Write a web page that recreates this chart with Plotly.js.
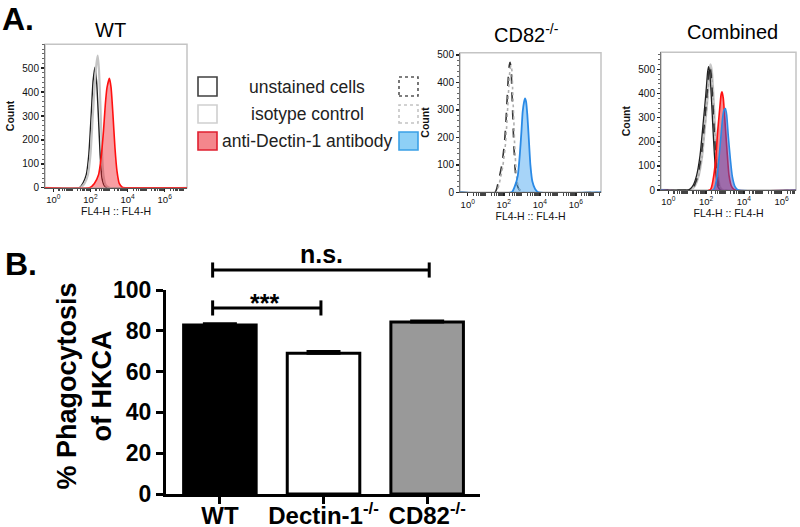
<!DOCTYPE html>
<html><head><meta charset="utf-8">
<script src="https://cdn.plot.ly/plotly-3.0.1.min.js"></script>
<style>html,body{margin:0;padding:0;background:#fff}#chart{width:800px;height:527px}</style>
</head><body><div id="chart"></div>
<script>
// ---------- DATA (fluorescence positions given as log10 FL4-H, counts) ----------
// Panel A, WT
const wtUnstainedLog   = [-0.5, 1.41, 1.59, 1.77, 1.91, 2.04, 2.14, 2.25, 2.34, 2.43, 2.52, 2.62, 2.75, 2.93, 7.5];
const wtUnstainedCount = [0, 0, 18, 53, 138, 307, 447, 505, 433, 293, 138, 39, 8, 0, 0];
const wtIsotypeLog     = [-0.5, 1.46, 1.68, 1.86, 2.0, 2.12, 2.23, 2.32, 2.39, 2.46, 2.54, 2.61, 2.70, 2.82, 3.02, 7.5];
const wtIsotypeCount   = [0, 0, 18, 53, 138, 293, 433, 518, 553, 490, 335, 166, 53, 11, 0, 0];
const wtDectinLog      = [-0.5, 1.95, 2.21, 2.43, 2.57, 2.70, 2.80, 2.89, 3.02, 3.11, 3.21, 3.32, 3.43, 3.55, 3.73, 3.91, 7.5];
const wtDectinCount    = [0, 0, 18, 53, 124, 236, 349, 419, 458, 419, 307, 166, 68, 18, 1, 0, 0];
// Panel A, CD82-/-
const cdUnstainedLog   = [-0.5, 1.52, 1.70, 1.89, 2.03, 2.11, 2.17, 2.22, 2.26, 2.31, 2.35, 2.41, 2.44, 2.48, 2.52, 2.55, 2.59, 2.63, 2.70, 2.81, 3.0, 7.5];
const cdUnstainedCount = [0, 0, 39, 99, 172, 245, 318, 378, 427, 463, 473, 451, 390, 318, 245, 184, 136, 87, 39, 15, 0, 0];
const cdIsotypeLog     = [-0.5, 1.58, 1.76, 1.94, 2.08, 2.16, 2.22, 2.27, 2.31, 2.36, 2.40, 2.46, 2.49, 2.53, 2.57, 2.60, 2.64, 2.68, 2.75, 2.86, 3.05, 7.5];
const cdIsotypeCount   = [0, 0, 35, 92, 165, 238, 310, 372, 420, 452, 460, 440, 380, 310, 240, 180, 130, 82, 36, 12, 0, 0];
const cdDectinLog      = [-0.5, 2.44, 2.63, 2.78, 2.89, 2.98, 3.05, 3.13, 3.18, 3.24, 3.31, 3.39, 3.48, 3.59, 3.74, 3.92, 7.5];
const cdDectinCount    = [0, 0, 25, 61, 136, 220, 293, 330, 342, 330, 281, 196, 99, 39, 12, 0, 0];
// Panel A, Combined
const coWtUnstLog   = [-0.5, 1.06, 1.15, 1.32, 1.50, 1.68, 1.85, 1.98, 2.08, 2.13, 2.20, 2.28, 2.36, 2.44, 2.52, 2.62, 2.76, 7.5];
const coWtUnstCount = [0, 0, 4, 21, 62, 145, 283, 394, 490, 511, 480, 380, 256, 145, 62, 14, 0, 0];
const coWtIsoLog    = [-0.5, 1.16, 1.25, 1.42, 1.60, 1.78, 1.95, 2.08, 2.18, 2.23, 2.30, 2.38, 2.46, 2.54, 2.62, 2.72, 2.86, 7.5];
const coWtIsoCount  = [0, 0, 4, 20, 60, 140, 280, 392, 495, 520, 490, 390, 262, 150, 64, 15, 0, 0];
const coCdUnstLog   = [-0.5, 1.12, 1.21, 1.38, 1.56, 1.74, 1.91, 2.04, 2.14, 2.19, 2.26, 2.34, 2.42, 2.50, 2.58, 2.68, 2.82, 7.5];
const coCdUnstCount = [0, 0, 4, 20, 60, 140, 278, 390, 488, 515, 485, 385, 260, 148, 64, 15, 0, 0];
const coCdIsoLog    = [-0.5, 1.16, 1.25, 1.42, 1.60, 1.78, 1.95, 2.08, 2.18, 2.23, 2.30, 2.38, 2.46, 2.54, 2.62, 2.72, 2.86, 7.5];
const coCdIsoCount  = [0, 0, 4, 19, 58, 136, 272, 385, 480, 505, 478, 380, 255, 145, 62, 14, 0, 0];
const coWtDecLog    = [-0.5, 2.21, 2.38, 2.51, 2.61, 2.72, 2.79, 2.84, 2.91, 3.0, 3.11, 3.21, 3.35, 3.53, 7.5];
const coWtDecCount  = [0, 0, 48, 131, 242, 338, 394, 407, 380, 283, 159, 62, 14, 0, 0];
const coCdDecLog    = [-0.5, 2.38, 2.56, 2.68, 2.79, 2.88, 2.95, 3.02, 3.09, 3.17, 3.28, 3.39, 3.53, 3.70, 7.5];
const coCdDecCount  = [0, 0, 48, 131, 228, 304, 332, 338, 311, 228, 131, 55, 14, 0, 0];
const histTickVals  = [1, 100, 1e4, 1e6];
const histTickText  = ['10<sup>0</sup>', '10<sup>2</sup>', '10<sup>4</sup>', '10<sup>6</sup>'];
const histMinorVals = [1, 10, 100, 1e3, 1e4, 1e5, 1e6, 1e7];
const countTicks    = [0, 100, 200, 300, 400, 500];

// Panel B
const groups       = ['WT', 'Dectin-1<sup>-/-</sup>', 'CD82<sup>-/-</sup>'];
const phagocytosis = [82.8, 69.0, 84.3];
const phagoSEM     = [0.6, 0.9, 0.5];
const barColors    = ['#000000', '#ffffff', '#999999'];
const yTicksB      = [0, 20, 40, 60, 80, 100];
const sigLabels    = ['***', 'n.s.'];
const sigFrom      = [-0.07, -0.07];
const sigTo        = [0.975, 2.02];
const sigLevel     = [91.2, 109.8];
const sigTextLevel = [93.8, 117.5];
const sigTextPos   = [0.43, 0.98];

// ---------- LAYOUT HELPERS ----------
const W = 800, H = 527;
const PX = v => v / W, PY = v => 1 - v / H;
const FONT = 'Arial, "Liberation Sans", sans-serif';
const unlog = a => a.map(v => Math.pow(10, v));

function hist(xLog, y, xa, ya, line, fill) {
  const t = {x: unlog(xLog), y: y, xaxis: xa, yaxis: ya, type: 'scatter', mode: 'lines',
    line: Object.assign({shape: 'spline', smoothing: 0.5}, line), hoverinfo: 'skip', showlegend: false};
  if (fill) { t.fill = 'tozeroy'; t.fillcolor = fill; }
  return t;
}

const traces = [
  hist(wtUnstainedLog, wtUnstainedCount, 'x', 'y', {color: '#202020', width: 1.4}),
  hist(wtIsotypeLog, wtIsotypeCount, 'x', 'y', {color: '#c4c4c4', width: 2.2}),
  hist(wtDectinLog, wtDectinCount, 'x', 'y', {color: '#ff1010', width: 1.6}, 'rgba(240,40,50,0.45)'),

  hist(cdUnstainedLog, cdUnstainedCount, 'x2', 'y2', {color: '#333333', width: 1.6, dash: 'dash'}),
  hist(cdIsotypeLog, cdIsotypeCount, 'x2', 'y2', {color: '#b0b0b0', width: 1.6, dash: 'dot'}),
  hist(cdDectinLog, cdDectinCount, 'x2', 'y2', {color: '#2a8ae6', width: 1.8}, 'rgba(60,160,240,0.45)'),

  hist(coWtIsoLog, coWtIsoCount, 'x3', 'y3', {color: '#c8c8c8', width: 2.6}),
  hist(coCdIsoLog, coCdIsoCount, 'x3', 'y3', {color: '#aaaaaa', width: 1.5, dash: 'dot'}),
  hist(coWtUnstLog, coWtUnstCount, 'x3', 'y3', {color: '#202020', width: 1.3}),
  hist(coCdUnstLog, coCdUnstCount, 'x3', 'y3', {color: '#333333', width: 1.6, dash: 'dash'}),
  hist(coWtDecLog, coWtDecCount, 'x3', 'y3', {color: '#ff1010', width: 1.6}, 'rgba(240,40,50,0.55)'),
  hist(coCdDecLog, coCdDecCount, 'x3', 'y3', {color: '#2a8ae6', width: 1.6}, 'rgba(70,80,200,0.5)'),

  {type: 'bar', x: groups, y: phagocytosis, xaxis: 'x4', yaxis: 'y4', width: 0.7,
   marker: {color: barColors, line: {color: '#000', width: 3}},
   error_y: {type: 'data', symmetric: false, array: phagoSEM, arrayminus: phagoSEM.map(() => 0),
             color: '#000', thickness: 3, width: 17},
   hoverinfo: 'skip', showlegend: false}
];

// significance brackets (drawn on an invisible overlay axis that shares panel B's scale)
sigLabels.forEach((lab, i) => {
  const a = sigFrom[i], b = sigTo[i], yv = sigLevel[i], d = 3.7;
  traces.push({type: 'scatter', mode: 'lines', xaxis: 'x5', yaxis: 'y5', hoverinfo: 'skip', showlegend: false,
    x: [a, a, null, a, b, null, b, b], y: [yv - d, yv + d, null, yv, yv, null, yv - d, yv + d],
    line: {color: '#000', width: 3}});
});

function histX(dom, range, anchor) {
  return {domain: dom, range: range, type: 'log', anchor: anchor, showgrid: false, zeroline: false,
    showline: true, linecolor: '#555', linewidth: 1, ticks: 'outside', ticklen: 3, tickwidth: 1.5, tickcolor: '#222',
    tickmode: 'array', tickvals: histTickVals, ticktext: histTickText,
    minor: {ticks: 'outside', ticklen: 2.5, tickwidth: 1.2, tickcolor: '#444',
            tickvals: histMinorVals.concat(histMinorVals.flatMap(v => [2,3,4,5,6,7,8,9].map(k => k * v)))},
    tickfont: {family: FONT, size: 9.5, color: '#111'},
    title: {text: 'FL4-H :: FL4-H', standoff: 3, font: {family: FONT, size: 10.5, color: '#111'}},
    automargin: false, fixedrange: true};
}
function histY(dom, range, anchor) {
  return {domain: dom, range: range, anchor: anchor, showgrid: false, zeroline: false,
    showline: true, linecolor: '#777', linewidth: 1, ticks: 'outside', ticklen: 3, tickwidth: 1.5, tickcolor: '#222',
    tickvals: countTicks, minor: {ticks: 'outside', ticklen: 2, tickwidth: 1, tickcolor: '#666', dtick: 20},
    tickfont: {family: FONT, size: 10, color: '#111'},
    title: {text: 'Count', standoff: 5, font: {family: FONT, size: 10.5, color: '#111', weight: 'bold'}},
    automargin: false, fixedrange: true};
}

const xB = [-0.52, 2.51];
const yBdom = [PY(494), PY(290)];
const y5top = 122;
const y5dom = [yBdom[0], yBdom[0] + (yBdom[1] - yBdom[0]) * y5top / 100];

const frame = (xr, yr) => ({type: 'rect', xref: xr + ' domain', yref: yr + ' domain', x0: 0, x1: 1, y0: 0, y1: 1,
  line: {color: '#c4c4c4', width: 1.5}, layer: 'below'});
const box = (x0, x1, y0, y1, line, fill, dash) => ({type: 'rect', xref: 'paper', yref: 'paper',
  x0: PX(x0), x1: PX(x1), y0: PY(y1), y1: PY(y0), line: {color: line, width: 1.6, dash: dash || 'solid'}, fillcolor: fill});

const ann = (text, x, y, size, opts) => Object.assign({text: text, xref: 'paper', yref: 'paper', x: PX(x), y: PY(y),
  showarrow: false, xanchor: 'center', yanchor: 'middle', font: {family: FONT, size: size, color: '#000'}}, opts || {});

const layout = {
  width: W, height: 527, margin: {l: 0, r: 0, t: 0, b: 0}, paper_bgcolor: '#fff', plot_bgcolor: 'rgba(0,0,0,0)',
  showlegend: false, font: {family: FONT},
  xaxis:  histX([PX(45), PX(187)], [-0.45, 7.2], 'y'),
  yaxis:  histY([PY(187.7), PY(44.3)], [0, 600], 'x'),
  xaxis2: histX([PX(460), PX(601)], [-0.43, 7.4], 'y2'),
  yaxis2: histY([PY(192.3), PY(52.7)], [0, 508], 'x2'),
  xaxis3: histX([PX(661), PX(796)], [-0.39, 6.76], 'y3'),
  yaxis3: histY([PY(190), PY(52.3)], [0, 571], 'x3'),
  xaxis4: {domain: [PX(166), PX(480)], anchor: 'y4', type: 'category', range: xB, showgrid: false, zeroline: false,
    showline: true, linecolor: '#000', linewidth: 3, ticks: 'outside', ticklen: 7, tickwidth: 3, tickcolor: '#000',
    ticklabelstandoff: -9,
    tickfont: {family: FONT, size: 24, color: '#000', weight: 'bold'}, automargin: false, fixedrange: true},
  yaxis4: {domain: yBdom, anchor: 'x4', range: [0, 100], tickvals: yTicksB, showgrid: false, zeroline: false,
    showline: true, linecolor: '#000', linewidth: 3, ticks: 'outside', ticklen: 7, tickwidth: 3, tickcolor: '#000',
    tickfont: {family: FONT, size: 23, color: '#000', weight: 'bold'}, automargin: false, fixedrange: true},
  xaxis5: {domain: [PX(166), PX(480)], anchor: 'y5', range: xB, visible: false, fixedrange: true},
  yaxis5: {domain: y5dom, anchor: 'x5', range: [0, y5top], visible: false, fixedrange: true},
  shapes: [
    frame('x', 'y'), frame('x2', 'y2'), frame('x3', 'y3'),
    box(198, 217, 77, 96, '#404040', '#fff'),
    box(198, 217, 105, 123, '#cfcfcf', '#fff'),
    box(198, 217, 132, 150, '#e02030', '#f4868c'),
    box(399, 418, 77, 96, '#555', '#fff', 'dot'),
    box(399, 418, 105, 123, '#c4c4c4', '#fff', 'dot'),
    box(399, 418, 132, 150, '#3aa0e6', '#8ed0f6')
  ],
  annotations: [
    ann('A.', 0, 19, 32, {xanchor: 'left', font: {family: FONT, size: 32, color: '#000', weight: 'bold'}}),
    ann('B.', 3, 264, 32, {xanchor: 'left', font: {family: FONT, size: 32, color: '#000', weight: 'bold'}}),
    ann('WT', 110, 30, 20),
    ann('CD82<sup>-/-</sup>', 526, 34, 20),
    ann('Combined', 732, 32, 20),
    ann('unstained cells', 307, 87, 17.5, {font: {family: FONT, size: 17.5, color: '#222'}}),
    ann('isotype control', 307, 114, 17.5, {font: {family: FONT, size: 17.5, color: '#222'}}),
    ann('anti-Dectin-1 antibody', 307, 141, 17.5, {font: {family: FONT, size: 17.5, color: '#222'}}),
    ann('% Phagocytosis<br>of HKCA', 83.5, 386, 27, {textangle: -90,
      font: {family: FONT, size: 27, color: '#000', weight: 'bold'}})
  ].concat(sigLabels.map((lab, i) => ({text: lab, xref: 'x5', yref: 'y5', x: sigTextPos[i], y: sigTextLevel[i],
      showarrow: false, xanchor: 'center', yanchor: 'middle',
      font: {family: FONT, size: 25, color: '#000', weight: 'bold'}})))
};

Plotly.newPlot('chart', traces, layout, {displayModeBar: false, staticPlot: true});
</script></body></html>
